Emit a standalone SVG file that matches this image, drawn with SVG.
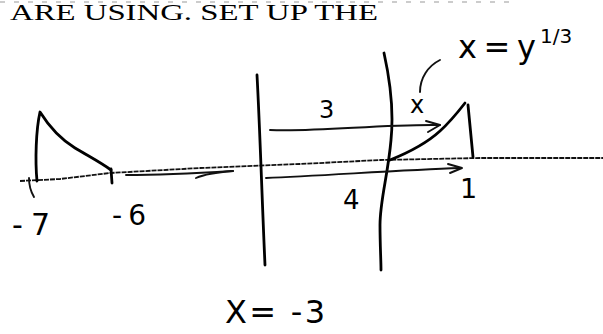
<svg xmlns="http://www.w3.org/2000/svg" width="603" height="334" viewBox="0 0 603 334">
<style>
.ink{fill:none;stroke:#000;stroke-width:2.8;stroke-linecap:round;stroke-linejoin:round}
.thin{fill:none;stroke:#111;stroke-width:1.9;stroke-linecap:round;stroke-linejoin:round}
.axis{fill:none;stroke:#111;stroke-width:1.8;stroke-dasharray:5 1}
.hand{font-family:"DejaVu Sans","Liberation Sans",sans-serif;fill:#000}
.print{font-family:"Liberation Serif","DejaVu Serif",serif;fill:#000}
</style>
<rect width="603" height="334" fill="#fff"/>
<g id="header">
<line x1="0" y1="2" x2="510" y2="2" stroke="#9a9a9a" stroke-width="1.2" stroke-dasharray="5 9"/>
<text class="print" x="10" y="20" font-size="24" textLength="368" lengthAdjust="spacingAndGlyphs">ARE USING. SET UP THE</text>
</g>
<g id="axis">
<polyline class="axis" points="20,181 60,179 110,173 200,168 300,164 380,160 480,158 603,158"/>
</g>
<g id="left-region">
<path class="ink" d="M37,181 C35,160 36,130 40,112 C50,128 62,140 75,148 C90,157 100,162 111,170"/>
<path class="ink" d="M111,169 L112,183"/>
<path class="thin" d="M29,178 C29,186 31,192 34,197"/>
</g>
<g id="line-x-minus-3">
<path class="ink" d="M257,75 C260,130 262,200 265,265"/>
</g>
<g id="line-right">
<path class="ink" d="M384,53 C390,80 394,110 391,140 C388,175 380,200 380,225 C380,245 381,260 381,270"/>
</g>
<g id="right-region">
<path class="ink" d="M390,160 C410,152 428,142 440,131 C450,122 458,112 465,103"/>
<path class="ink" d="M468,105 L473,157"/>
<path class="thin" d="M420,92 C420,78 428,66 440,60"/>
</g>
<g id="connectors">
<path class="thin" d="M270,130 C320,132 380,124 440,125"/>
<path class="thin" d="M426,121 L440,125 L428,132"/>
<path class="thin" d="M266,178 C320,176 400,170 460,168"/>
<path class="thin" d="M448,164 L462,168 L450,173"/>
<path class="thin" d="M126,175 C160,175 200,173 233,171"/>
<path class="thin" d="M196,178 C205,174 220,172 233,171"/>
</g>
<g id="labels">
<text class="hand" x="319" y="118" font-size="24">3</text>
<text class="hand" x="343" y="209" font-size="26">4</text>
<text class="hand" x="410" y="113" font-size="24">x</text>
<text class="hand" x="460" y="198" font-size="27">1</text>
<text class="hand" x="12" y="235" font-size="30" textLength="38" lengthAdjust="spacing">-7</text>
<text class="hand" x="112" y="225" font-size="28" textLength="34" lengthAdjust="spacing">-6</text>
<text class="hand" x="458" y="58" font-size="32" textLength="78" lengthAdjust="spacing">x = y</text>
<text class="hand" x="540" y="43" font-size="20">1/3</text>
<text class="hand" x="225" y="323" font-size="32" textLength="100" lengthAdjust="spacing">X= -3</text>
</g>
</svg>
